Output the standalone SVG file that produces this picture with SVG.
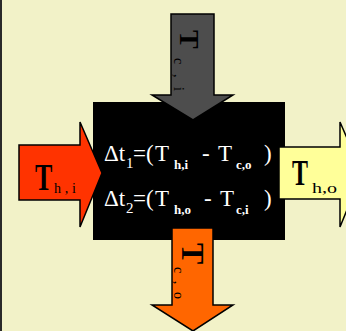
<svg xmlns="http://www.w3.org/2000/svg" width="346" height="331" viewBox="0 0 346 331">
<style>
.arr{stroke:#000;stroke-width:1.5;stroke-linejoin:miter}
.lbl{font-family:"Liberation Serif","Times New Roman",serif;fill:#000}
.big{font-weight:bold}
.sub{font-size:14px}
.eq{font-family:"Liberation Serif","Times New Roman",serif;fill:#fff;font-size:23px}
.es{font-family:"Liberation Serif","Times New Roman",serif;fill:#fff;font-size:13px;font-weight:bold}
.en{font-family:"Liberation Serif","Times New Roman",serif;fill:#fff;font-size:15px}
</style>
<rect width="346" height="331" fill="#F2F2C8"/>
<rect x="0" y="0" width="2" height="331" fill="#2a2a2a"/>
<g id="exchanger">
<rect x="93" y="102" width="192" height="138" fill="#000"/>
</g>
<g id="connectors">
<g id="cold-in">
<path class="arr" fill="#4D4D4D" d="M171,14 H214 V95 H233 L193,120 L152,95 H171 Z"/>
<text class="lbl big" font-size="28" transform="translate(180,30) rotate(90)">T</text>
<text class="lbl sub" transform="translate(174,58) rotate(90)" textLength="33" lengthAdjust="spacing">c , i</text>
</g>
<g id="hot-in">
<path class="arr" fill="#FF3300" d="M19,145 H80 V122 L102,173 L80,227 V200 H19 Z"/>
<text class="lbl big" font-size="26" transform="translate(35,190) scale(1,1.45)">T</text>
<text class="lbl sub" x="54" y="193" textLength="22" lengthAdjust="spacing">h , i</text>
</g>
<g id="hot-out">
<path class="arr" fill="#FFFF99" d="M279,147 H340 V122 L362,173 L340,227 V199 H279 Z"/>
<text class="lbl big" font-size="24" transform="translate(292,185) scale(1,1.45)">T</text>
<text class="lbl sub" x="312" y="193" textLength="25" lengthAdjust="spacingAndGlyphs">h,o</text>
</g>
<g id="cold-out">
<path class="arr" fill="#FF6600" d="M172,228 H213 V305 H233 L193,331 L152,305 H172 Z"/>
<text class="lbl big" font-size="32" transform="translate(182,243) rotate(90)">T</text>
<text class="lbl sub" transform="translate(174,267) rotate(90)" textLength="32" lengthAdjust="spacing">c , o</text>
</g>
</g>
<g id="equations">
<text class="eq" x="104" y="161">Δt</text>
<text class="en" x="126" y="168">1</text>
<text class="eq" x="133" y="161">=(</text>
<text class="eq" x="155" y="161">T</text>
<text class="es" x="174" y="169">h,i</text>
<text class="eq" x="202" y="161">-</text>
<text class="eq" x="218" y="161">T</text>
<text class="es" x="236" y="169">c,o</text>
<text class="eq" x="264" y="161">)</text>
<text class="eq" x="104" y="206">Δt</text>
<text class="en" x="126" y="213">2</text>
<text class="eq" x="133" y="206">=(</text>
<text class="eq" x="155" y="206">T</text>
<text class="es" x="174" y="214">h,o</text>
<text class="eq" x="204" y="206">-</text>
<text class="eq" x="220" y="206">T</text>
<text class="es" x="236" y="214">c,i</text>
<text class="eq" x="264" y="206">)</text>
</g>
</svg>
